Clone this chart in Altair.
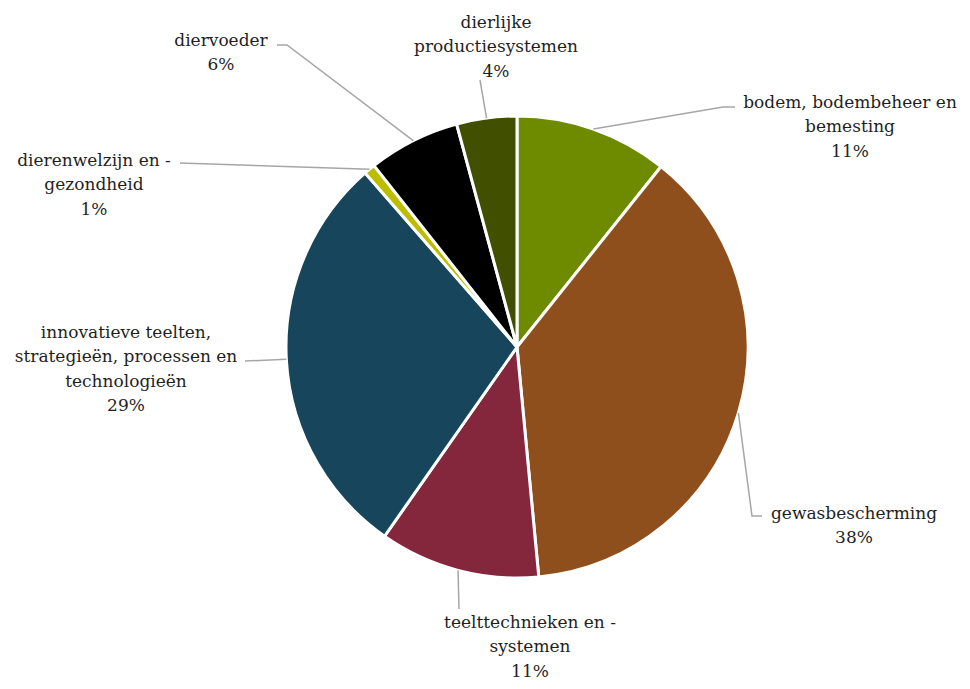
import math
import altair as alt
import pandas as pd

# ---------------- data ----------------
categories = [
    "bodem, bodembeheer en bemesting",
    "gewasbescherming",
    "teelttechnieken en -systemen",
    "innovatieve teelten, strategieën, processen en technologieën",
    "dierenwelzijn en -gezondheid",
    "diervoeder",
    "dierlijke productiesystemen",
]
values = [10.7, 37.7, 11.2, 28.8, 0.8, 6.4, 4.2]
label_text = [
    "bodem, bodembeheer en\nbemesting",
    "gewasbescherming",
    "teelttechnieken en -\nsystemen",
    "innovatieve teelten,\nstrategieën, processen en\ntechnologieën",
    "dierenwelzijn en -\ngezondheid",
    "diervoeder",
    "dierlijke\nproductiesystemen",
]
colors = ["#6e8b00", "#8e4f1c", "#84263c", "#17465c", "#bdbd00", "#000000", "#405000"]

# ---------------- layout (pixels) ----------------
W, H = 954, 673
CX, CY = 509, 339          # pie centre inside the view
R = 231                    # pie radius
FONT = "DejaVu Serif"
FS = 17
LH = 24.3
# label block position (first line centre) relative to the pie centre
label_offset = [(333, -245), (337, 166), (13, 275), (-391, -15),
                (-423, -187), (-296, -307), (-21, -325)]
# leader line waypoints (after the slice edge point) relative to the pie centre
leader_pts = [[(206, -240), (218, -240)], [(235, 169), (245, 169)], [(-58, 262)],
              [(-272, 14)], [(-337, -184)], [(-230, -302), (-240, -302)], [(-37, -267)]]

total = sum(values)
pie_df = pd.DataFrame({"cat": categories, "value": values, "idx": range(len(values))})

line_rows, text_rows = [], []
cum = 0.0
for i, (c, v) in enumerate(zip(categories, values)):
    mid = (cum + v / 2) / total * 2 * math.pi
    cum += v
    ex, ey = CX + R * math.sin(mid), CY - R * math.cos(mid)
    pts = [(ex, ey)] + [(CX + dx, CY + dy) for dx, dy in leader_pts[i]]
    for k, (px, py) in enumerate(pts):
        line_rows.append({"cat": c, "k": k, "x": px, "y": py})
    pct = round(v / total * 100)
    dx, dy = label_offset[i]
    text_rows.append({"cat": c, "x": CX + dx, "y": CY + dy - 7,
                      "t": f"{label_text[i]}\n{pct}%"})

line_df = pd.DataFrame(line_rows)
text_df = pd.DataFrame(text_rows)

xs = alt.Scale(domain=[0, W], nice=False, zero=False)
ys = alt.Scale(domain=[0, H], nice=False, zero=False, reverse=True)

pie = alt.Chart(pie_df).mark_arc(outerRadius=R, stroke="white", strokeWidth=3).encode(
    theta=alt.Theta("value:Q", stack=True),
    order=alt.Order("idx:Q"),
    color=alt.Color("cat:N", scale=alt.Scale(domain=categories, range=colors), legend=None),
    x=alt.value(CX),
    y=alt.value(CY),
)

leaders = alt.Chart(line_df).mark_line(color="#a6a6a6", strokeWidth=1.5).encode(
    x=alt.X("x:Q", scale=xs, axis=None),
    y=alt.Y("y:Q", scale=ys, axis=None),
    detail="cat:N",
    order="k:Q",
)

labels = alt.Chart(text_df).mark_text(
    font=FONT, fontSize=FS, color="#1f1f1f", align="center", baseline="top",
    lineBreak="\n", lineHeight=LH,
).encode(
    x=alt.X("x:Q", scale=xs, axis=None),
    y=alt.Y("y:Q", scale=ys, axis=None),
    text="t:N",
)

chart = alt.layer(pie, leaders, labels).properties(
    width=W, height=H, autosize=alt.AutoSizeParams(type="none"), padding=0
).resolve_scale(theta="independent").configure_view(stroke=None)

chart.save("out.html", embed_options={"renderer": "svg", "actions": False})
